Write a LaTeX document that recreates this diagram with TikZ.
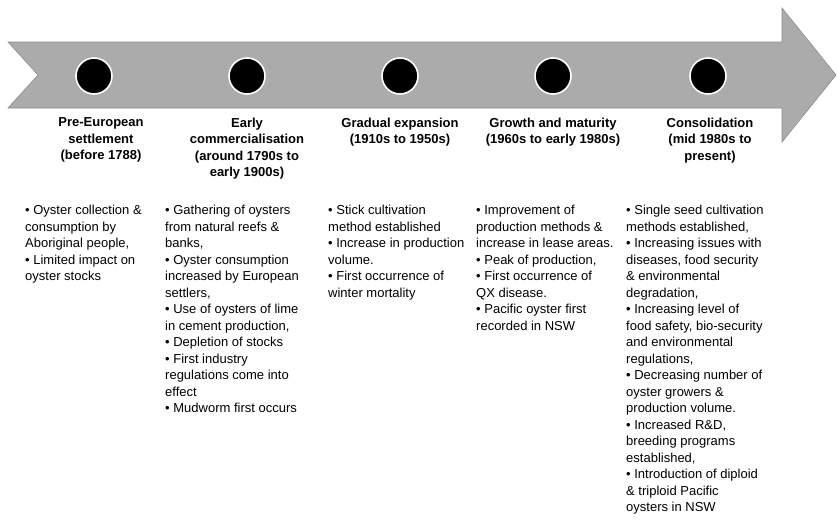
\documentclass[tikz,border=0pt]{standalone}
\usepackage{fontspec}
\setmainfont{Liberation Sans}
\usepackage{tikz}
\usetikzlibrary{positioning}
\tikzset{
  band/.style={fill=black!33, draw=black!45, line width=0.6pt},
  dot/.style={circle, fill=black, draw=white, line width=1.6pt, minimum size=36pt, inner sep=0pt},
  stage/.style={align=center, inner sep=0pt, font=\bfseries\fontsize{13}{16.5}\selectfont},
  notes/.style={align=left, inner sep=0pt, anchor=north west, font=\fontsize{13}{16.5}\selectfont},
}

\begin{document}
\begin{tikzpicture}[x=1pt, y=-1pt]
  \useasboundingbox (0,0) rectangle (837,520);

  % Timeline arrow
  \draw[band] (8,42) -- (782,42) -- (782,8) -- (836,75) -- (782,142) -- (782,108)
    -- (8,108) -- (38,75) -- cycle;

  % Milestones
  \node[dot] (d1) at (94,76) {};
  \node[dot] (d2) at (247,76) {};
  \node[dot] (d3) at (400,76) {};
  \node[dot] (d4) at (553,76) {};
  \node[dot] (d5) at (708,76) {};

  % Stage titles
  \node[stage, below=23pt of d1, xshift=7pt] (s1) {Pre-European\\settlement\\(before 1788)};
  \node[stage, below=23pt of d2] (s2) {Early\\commercialisation\\(around 1790s to\\early 1900s)};
  \node[stage, below=23pt of d3] (s3) {Gradual expansion\\(1910s to 1950s)};
  \node[stage, below=23pt of d4] (s4) {Growth and maturity\\(1960s to early 1980s)};
  \node[stage, below=23pt of d5, xshift=2pt] (s5) {Consolidation\\(mid 1980s to\\present)};

  % Notes
  \node[notes] (n1) at (25,205) {• Oyster collection \&\\consumption by\\Aboriginal people,\\• Limited impact on\\oyster stocks};
  \node[notes] (n2) at (165,205) {• Gathering of oysters\\from natural reefs \&\\banks,\\• Oyster consumption\\increased by European\\settlers,\\• Use of oysters of lime\\in cement production,\\• Depletion of stocks\\• First industry\\regulations come into\\effect\\• Mudworm first occurs};
  \node[notes] (n3) at (328,205) {• Stick cultivation\\method established\\• Increase in production\\volume.\\• First occurrence of\\winter mortality};
  \node[notes] (n4) at (476,205) {• Improvement of\\production methods \&\\increase in lease areas.\\• Peak of production,\\• First occurrence of\\QX disease.\\• Pacific oyster first\\recorded in NSW};
  \node[notes] (n5) at (626,205) {• Single seed cultivation\\methods established,\\• Increasing issues with\\diseases, food security\\\& environmental\\degradation,\\• Increasing level of\\food safety, bio-security\\and environmental\\regulations,\\• Decreasing number of\\oyster growers \&\\production volume.\\• Increased R\&D,\\breeding programs\\established,\\• Introduction of diploid\\\& triploid Pacific\\oysters in NSW};

\end{tikzpicture}
\end{document}
